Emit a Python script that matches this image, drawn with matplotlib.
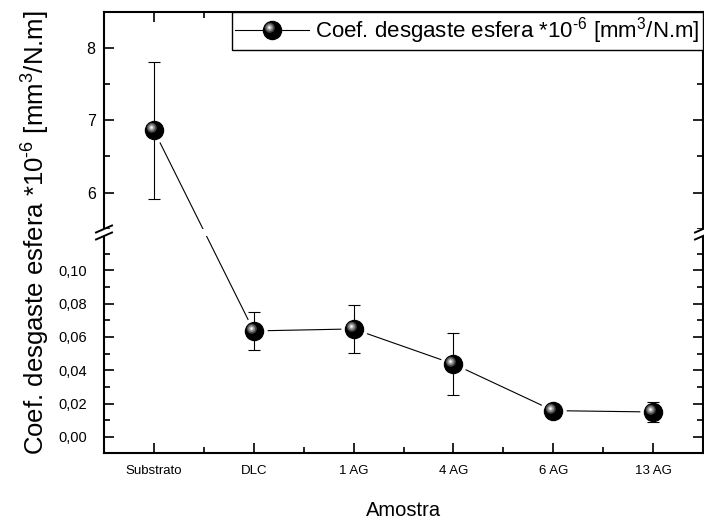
import numpy as np
import matplotlib
matplotlib.use('Agg')
import matplotlib.pyplot as plt
from matplotlib.path import Path
from matplotlib.patches import Rectangle
from matplotlib.lines import Line2D
from matplotlib.legend_handler import HandlerTuple

plt.rcParams['font.family'] = ['Liberation Sans', 'DejaVu Sans']
plt.rcParams['mathtext.fontset'] = 'custom'
plt.rcParams['mathtext.rm'] = 'Liberation Sans'
plt.rcParams['mathtext.it'] = 'Liberation Sans'

# wear coefficient of the sphere per sample (x 1e-6 mm3/N.m)
amostras = ['Substrato', 'DLC', '1 AG', '4 AG', '6 AG', '13 AG']
coef = [6.86, 0.0636, 0.0648, 0.0438, 0.0158, 0.0150]
erro = [0.95, 0.0112, 0.0144, 0.0185, 0.0010, 0.0058]

# broken axis: lower and upper ranges
low = (-0.0096, 0.1225)
high = (5.45, 8.5)

xp = [low[0] - 10, low[0], low[1], high[0], high[1], high[1] + 100]
s1 = 0.4995 / (low[1] - low[0])
s2 = 0.4995 / (high[1] - high[0])
fp = [-10 * s1, 0.0, 0.4995, 0.5005, 1.0, 1.0 + 100 * s2]


def fwd(y):
    return np.interp(y, xp, fp)


def inv(u):
    return np.interp(u, fp, xp)


def highlight(ofs, r):
    # off-centre spot for the glossy sphere look; anchor vertex keeps the scale fixed
    anchor = Path([[1.0, 0.0]], [Path.MOVETO])
    return Path.make_compound_path(anchor, Path.circle(center=ofs, radius=r))


spots = [(highlight((-0.3, 0.3), 0.55), '#4a4a4a'),
         (highlight((-0.32, 0.32), 0.38), '#8c8c8c'),
         (highlight((-0.33, 0.33), 0.22), '#c8c8c8'),
         (highlight((-0.33, 0.33), 0.1), '#ffffff')]

fig = plt.figure(figsize=(7.04, 5.21), dpi=100)
ax = fig.add_axes([104 / 704, 68 / 521, 599 / 704, 441 / 521])
ax.set_yscale('function', functions=(fwd, inv))

x = np.arange(len(amostras))
ms = 13

ax.plot(x, coef, color='black', lw=0.8, zorder=1)
# white halo leaves a small gap between the line and each sphere
ax.plot(x, coef, ls='none', marker='o', ms=19, mfc='white', mec='none', zorder=2)
ax.errorbar(x, coef, yerr=erro, fmt='none', ecolor='black', elinewidth=0.8,
            capsize=4.5, capthick=0.8, zorder=3)
ball, = ax.plot(x, coef, ls='none', marker='o', ms=ms, mfc='black', mec='black', zorder=4)
layers = []
for i, (p, c) in enumerate(spots):
    l, = ax.plot(x, coef, ls='none', marker=p, ms=ms, mfc=c, mec='none', zorder=5 + i)
    layers.append(l)

ax.set_xlim(-0.5, len(amostras) - 0.5)
ax.set_ylim(low[0], high[1])

ax.set_xticks(x)
ax.set_xticklabels(amostras, fontsize=9.5)
ax.set_xticks(x[:-1] + 0.5, minor=True)

yt = [0.0, 0.02, 0.04, 0.06, 0.08, 0.10, 6, 7, 8]
ytl = ['0,00', '0,02', '0,04', '0,06', '0,08', '0,10', '6', '7', '8']
ax.set_yticks(yt)
ax.set_yticklabels(ytl, fontsize=10.5)
ax.set_yticks([0.01, 0.03, 0.05, 0.07, 0.09, 0.11, 5.5, 6.5, 7.5], minor=True)

ax.tick_params(which='both', direction='in', top=True, right=True, width=1.2)
ax.tick_params(which='major', length=7)
ax.tick_params(which='minor', length=4)
ax.tick_params(axis='y', which='major', pad=12)
ax.tick_params(axis='x', which='major', pad=9)
# upper segment labels sit closer to the spine
for t, v in zip(ax.yaxis.get_major_ticks(), yt):
    if v > 1:
        t.set_pad(6)
        t.label1.set_fontsize(11.5)
for sp in ax.spines.values():
    sp.set_linewidth(1.5)

unidade = 'Coef. desgaste esfera *10$^{\\text{-6}}$ [mm$^{3}$/N.m]'
ax.set_xlabel('Amostra', fontsize=14.5, labelpad=17)
ax.set_ylabel(unidade, fontsize=18.5)
ax.yaxis.set_label_coords(-0.086, 0.5)

# break marks on both side spines
W, H = 599.0, 441.0
gap = 3.5
ax.add_patch(Rectangle((-12 / W, 0.5 - gap / H), 1 + 24 / W, 2 * gap / H,
                       transform=ax.transAxes, color='white', clip_on=False,
                       zorder=20, lw=0))
for xs in (0.0, 1.0):
    for yc in (0.5 - gap / H, 0.5 + gap / H):
        ax.plot([xs - 8 / W, xs + 8 / W], [yc - 3.5 / H, yc + 3.5 / H],
                transform=ax.transAxes, color='black', lw=1.4,
                clip_on=False, zorder=21)

# legend with the sphere drawn from the same layered markers
h_line = Line2D([], [], color='black', lw=0.8)
leg = ax.legend([tuple([h_line, ball] + layers)], [unidade],
                handler_map={tuple: HandlerTuple(ndivide=1, pad=0)},
                loc='upper right', bbox_to_anchor=(1, 1), borderaxespad=0,
                fontsize=16, frameon=True, fancybox=False, framealpha=1,
                edgecolor='black', handlelength=3.3, handletextpad=0.3,
                borderpad=0.15)
leg.get_frame().set_linewidth(1.0)
leg.set_zorder(30)

fig.savefig('out.png', dpi=100)
